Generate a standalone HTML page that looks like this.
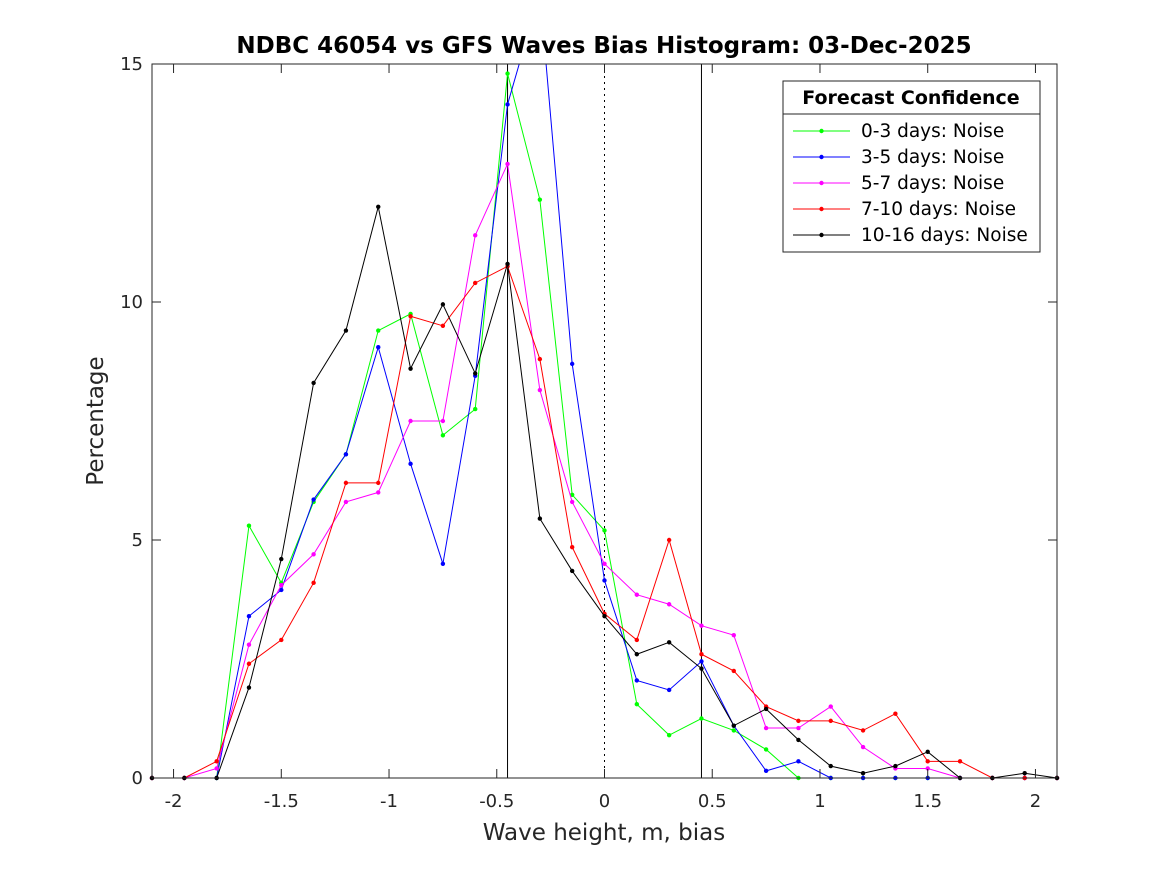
<!DOCTYPE html>
<html><head><meta charset="utf-8"><style>
html,body{margin:0;padding:0;background:#fff;}
svg{display:block;font-family:"DejaVu Sans","Liberation Sans",sans-serif;}
</style></head><body>
<svg id="chart" width="1167" height="875" viewBox="0 0 1167 875"></svg>
<script>
const xs=[-2.1,-1.95,-1.8,-1.65,-1.5,-1.35,-1.2,-1.05,-0.9,-0.75,-0.6,-0.45,-0.3,-0.15,0,0.15,0.3,0.45,0.6,0.75,0.9,1.05,1.2,1.35,1.5,1.65,1.8,1.95,2.1];
const green=[0,0,0,5.3,4.1,5.8,6.8,9.4,9.75,7.2,7.75,14.8,12.15,5.95,5.2,1.55,0.9,1.25,1.0,0.6,0,0,0,0,0,0,0,0,0];
const blue=[0,0,0,3.4,3.95,5.85,6.8,9.05,6.6,4.5,8.45,14.15,16.5,8.7,4.15,2.05,1.85,2.45,1.1,0.15,0.35,0,0,0,0,0,0,0,0];
const magenta=[0,0,0.2,2.8,4.05,4.7,5.8,6.0,7.5,7.5,11.4,12.9,8.15,5.8,4.5,3.85,3.65,3.2,3.0,1.05,1.05,1.5,0.65,0.2,0.2,0,0,0,0];
const red=[0,0,0.35,2.4,2.9,4.1,6.2,6.2,9.7,9.5,10.4,10.75,8.8,4.85,3.45,2.9,5.0,2.6,2.25,1.5,1.2,1.2,1.0,1.35,0.35,0.35,0,0,0];
const black=[0,0,0,1.9,4.6,8.3,9.4,12.0,8.6,9.95,8.5,10.8,5.45,4.35,3.4,2.6,2.85,2.3,1.1,1.45,0.8,0.25,0.1,0.25,0.55,0,0,0.1,0];
const seriesNames=["0-3 days: Noise","3-5 days: Noise","5-7 days: Noise","7-10 days: Noise","10-16 days: Noise"];
const xTicks=[-2,-1.5,-1,-0.5,0,0.5,1,1.5,2];
const yTicks=[0,5,10,15];

const L=152,R=1057,T=64,B=778;
const X=v=>L+(v+2.1)/4.2*(R-L);
const Y=v=>B-v/15*(B-T);
const svg=document.getElementById('chart');
const NS='http://www.w3.org/2000/svg';
function mk(tag,attrs,parent){const e=document.createElementNS(NS,tag);for(const k in attrs)e.setAttribute(k,attrs[k]);(parent||svg).appendChild(e);return e;}

const defs=mk('defs',{});
const cp=mk('clipPath',{id:'clip'},defs);
mk('rect',{x:L-5,y:T,width:R-L+10,height:B-T+10},cp);

let g=mk('g',{});


mk('line',{x1:X(-0.45),x2:X(-0.45),y1:T,y2:B,stroke:'#000','stroke-width':1},g);
mk('line',{x1:X(0.45),x2:X(0.45),y1:T,y2:B,stroke:'#000','stroke-width':1},g);
mk('line',{x1:X(0),x2:X(0),y1:T,y2:B,stroke:'#000','stroke-width':1,'stroke-dasharray':'2,4'},g);

const series=[[green,'#00ff00'],[blue,'#0000ff'],[magenta,'#ff00ff'],[red,'#ff0000'],[black,'#000000']];
const sg=mk('g',{'clip-path':'url(#clip)'});
series.forEach(([d,c],i)=>{
  const gg=mk('g',{},sg);
  
  
  mk('polyline',{points:d.map((v,j)=>X(xs[j])+','+Y(v)).join(' '),fill:'none',stroke:c,'stroke-width':1},gg);
  d.forEach((v,j)=>{const p=mk('circle',{cx:X(xs[j]),cy:Y(v),r:2.2,fill:c},gg);
    
    });
});

const ax=mk('rect',{x:L,y:T,width:R-L,height:B-T,fill:'none',stroke:'#262626','stroke-width':1});


xTicks.forEach(v=>{
  mk('line',{x1:X(v),x2:X(v),y1:B,y2:B-9,stroke:'#262626'});
  mk('line',{x1:X(v),x2:X(v),y1:T,y2:T+9,stroke:'#262626'});
  const t=mk('text',{x:X(v),y:B+29,'text-anchor':'middle','font-size':18,fill:'#262626'});
  t.textContent=String(v);
  
  
});
yTicks.forEach(v=>{
  mk('line',{x1:L,x2:L+9,y1:Y(v),y2:Y(v),stroke:'#262626'});
  mk('line',{x1:R,x2:R-9,y1:Y(v),y2:Y(v),stroke:'#262626'});
  const t=mk('text',{x:L-9,y:Y(v)+6,'text-anchor':'end','font-size':18,fill:'#262626'});
  t.textContent=String(v);
  
  
});
let t=mk('text',{x:604,y:53,'text-anchor':'middle','font-size':23,'font-weight':'bold',fill:'#000'});
t.textContent='NDBC 46054 vs GFS Waves Bias Histogram: 03-Dec-2025';


t=mk('text',{x:604,y:840,'text-anchor':'middle','font-size':23,fill:'#262626'});
t.textContent='Wave height, m, bias';


t=mk('text',{x:103,y:421,'text-anchor':'middle','font-size':23,fill:'#262626',transform:'rotate(-90 103 421)'});
t.textContent='Percentage';



const lg=mk('g',{});


mk('rect',{x:783,y:81,width:257,height:171,fill:'#fff',stroke:'#262626'},lg);
mk('line',{x1:783,x2:1040,y1:114,y2:114,stroke:'#262626'},lg);
t=mk('text',{x:911,y:104,'text-anchor':'middle','font-size':19,'font-weight':'bold',fill:'#000'},lg);
t.textContent='Forecast Confidence';


series.forEach(([d,c],i)=>{
  const yy=131+i*26;
  const e=mk('g',{},lg);
  
  
  mk('line',{x1:793,x2:850,y1:yy,y2:yy,stroke:c},e);
  mk('circle',{cx:821.5,cy:yy,r:2.2,fill:c},e);
  const tt=mk('text',{x:861,y:yy+6,'font-size':18.5,fill:'#000'},e);
  tt.textContent=seriesNames[i];
});
</script>
</body></html>
